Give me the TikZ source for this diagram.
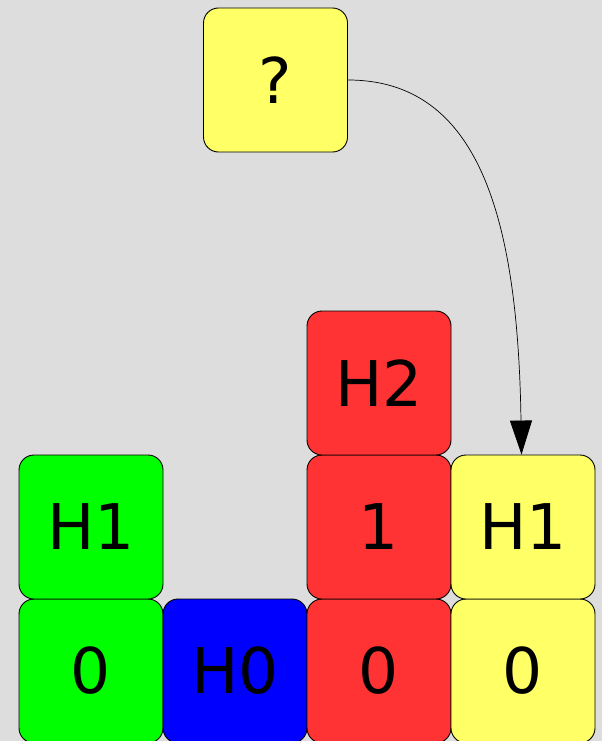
\documentclass[tikz,border=0pt]{standalone}
\usepackage{fontspec}
\setmainfont{DejaVu Sans}
\usetikzlibrary{arrows.meta}
\definecolor{bg}{HTML}{DDDDDD}
\definecolor{yel}{HTML}{FFFF66}
\definecolor{grn}{HTML}{00FF00}
\definecolor{blu}{HTML}{0000FF}
\definecolor{rd}{HTML}{FF3333}
\begin{document}
\begin{tikzpicture}[x=1pt,y=-1pt,
  cell/.style={draw=black,line width=0.9pt,rounded corners=15pt,minimum width=144pt,minimum height=144pt,inner sep=0pt,font=\fontsize{63}{69}\selectfont,text=black},
  link/.style={draw=black,line width=0.7pt,-{Triangle[length=34pt,width=22pt]}}]
\fill[bg] (0,0) rectangle (602,741);
\useasboundingbox (0,0) rectangle (602,741);
\node[cell,fill=yel] (q) at (275.5,80) {?};
\node[cell,fill=grn] (g0) at (91,671) {0};
\node[cell,fill=grn] (g1) at (91,527) {H1};
\node[cell,fill=blu] (b0) at (235,671) {H0};
\node[cell,fill=rd] (r0) at (379,671) {0};
\node[cell,fill=rd] (r1) at (379,527) {1};
\node[cell,fill=rd] (r2) at (379,383) {H2};
\node[cell,fill=yel] (y0) at (523,671) {0};
\node[cell,fill=yel] (y1) at (523,527) {H1};
\draw[link] (q.east) .. controls (480,80) and (518,220) .. ([xshift=-1.5pt]y1.north);
\end{tikzpicture}
\end{document}
